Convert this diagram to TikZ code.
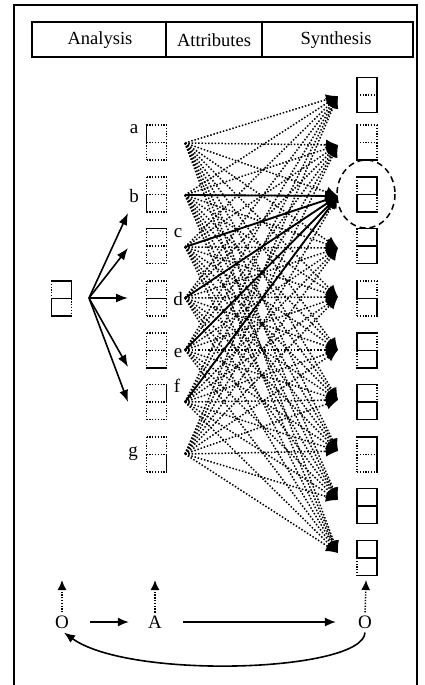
\documentclass[tikz,border=0pt]{standalone}
\usepackage{fontspec}
\setmainfont{Liberation Serif}
\usetikzlibrary{arrows.meta}

% two-cell box: centre, then edge styles TL BL T M B TR BR
\newcommand\twobox[8]{%
  \begin{scope}[shift={(#1)}]
  \draw[#2] (-10,-17.5) -- (-10,0);
  \draw[#3] (-10,0) -- (-10,17.5);
  \draw[#4] (-10,-17.5) -- (10,-17.5);
  \draw[#5] (-10,0) -- (10,0);
  \draw[#6] (-10,17.5) -- (10,17.5);
  \draw[#7] (10,-17.5) -- (10,0);
  \draw[#8] (10,0) -- (10,17.5);
  \end{scope}}

\begin{document}
\begin{tikzpicture}[x=1pt,y=-1pt,
  ls/.style={line width=1.8pt,line cap=rect},
  ld/.style={line width=1.2pt,line cap=butt,dash pattern=on 1.2pt off 1.6pt},
  link/.style={line width=1.5pt,dash pattern=on 1.5pt off 1.8pt,-{Latex[length=12pt,width=11pt]}},
  strong/.style={line width=1.8pt,-{Latex[length=13pt,width=11pt]}},
  branch/.style={line width=1.6pt,-{Latex[length=12pt,width=9pt]}},
  flow/.style={line width=1.6pt,-{Latex[length=11pt,width=9pt]}},
  rise/.style={line width=1.5pt,dash pattern=on 1.3pt off 1.5pt,-{Latex[length=10pt,width=9pt]}},
  letter/.style={inner sep=0pt,font=\fontsize{19}{20}\selectfont},
  head/.style={inner sep=0pt,font=\fontsize{18.5}{20}\selectfont}]
\useasboundingbox (0,0) rectangle (424,685);
\draw[line width=2.5pt] (14,5) rectangle (417,700);

% header
\draw[line width=1.4pt] (32,22) rectangle (413,57);
\draw[line width=1.4pt] (166,22) -- (166,57);
\draw[line width=1.4pt] (262,22) -- (262,57);
\node[head] (analysis) at (100,40) {Analysis};
\node[head] (attributes) at (214,40) {Attributes};
\node[head] (synthesis) at (336,40) {Synthesis};

% object and its attributes
\twobox{61.5,298.5}{ld}{ls}{ls}{ls}{ls}{ls}{ld}
\twobox{156.5,142.5}{ls}{ld}{ld}{ld}{ld}{ld}{ld}
\twobox{156.5,194.5}{ld}{ls}{ld}{ld}{ld}{ld}{ld}
\twobox{156.5,246}{ld}{ld}{ls}{ld}{ld}{ld}{ld}
\twobox{156.5,298.5}{ld}{ld}{ld}{ls}{ld}{ld}{ld}
\twobox{156.5,350.5}{ld}{ld}{ld}{ld}{ls}{ld}{ld}
\twobox{156.5,402}{ld}{ld}{ld}{ld}{ld}{ls}{ld}
\twobox{156.5,454.5}{ld}{ld}{ld}{ld}{ld}{ld}{ls}

\node[letter,anchor=base] (la) at (134,133) {a};
\node[letter,anchor=base] (lb) at (134,202) {b};
\node[letter,anchor=base] (lc) at (178,237) {c};
\node[letter,anchor=base] (ld) at (178,305) {d};
\node[letter,anchor=base] (le) at (178,357) {e};
\node[letter,anchor=base] (lf) at (177,392) {f};
\node[letter,anchor=base] (lg) at (133,456) {g};

% analysis arrows
\coordinate (split) at (89,298);
\coordinate (ab) at (128,213);
\coordinate (ac) at (128,248);
\coordinate (ad) at (128,298);
\coordinate (ae) at (128,367);
\coordinate (af) at (128,402);
\foreach \t in {ab,ac,ad,ae,af}
  \draw[branch] (split) -- (\t);

% synthesis boxes
\twobox{367,95}{ls}{ls}{ls}{ld}{ls}{ls}{ls}
\twobox{367,142.5}{ls}{ls}{ld}{ld}{ls}{ld}{ld}
\twobox{367,194.5}{ld}{ls}{ls}{ls}{ls}{ls}{ld}
\twobox{367,246}{ld}{ld}{ls}{ls}{ls}{ls}{ls}
\twobox{367,298.5}{ls}{ld}{ld}{ls}{ld}{ld}{ls}
\twobox{367,350.5}{ls}{ld}{ls}{ls}{ls}{ld}{ls}
\twobox{367,402}{ls}{ls}{ls}{ls}{ls}{ld}{ls}
\twobox{367,454.5}{ld}{ld}{ls}{ld}{ld}{ls}{ls}
\twobox{367,506}{ls}{ls}{ls}{ls}{ls}{ls}{ls}
\twobox{367,558}{ls}{ld}{ls}{ls}{ls}{ls}{ls}
\draw[line width=1.5pt,dash pattern=on 6pt off 4pt] (366,194) ellipse (29 and 34);

% links from every attribute to every synthesis
\foreach \n/\y in {a/143,b/195,c/247,d/298,e/350,f/402,g/454}
  \coordinate (s\n) at (185,\y);
\foreach \k/\y in {1/96,2/145,3/196,4/248,5/297,6/350,7/400,8/451,9/500,10/553}
  \coordinate (t\k) at (338,\y);
\foreach \n in {a,b,c,d,e,f,g}
  \foreach \k in {1,...,10}
    \draw[link] (s\n) -- (t\k);
\foreach \n in {b,c,d,e,f}
  \draw[strong] (s\n) -- (t3);

% O -> A -> O cycle
\node[letter] (o1) at (62,622) {O};
\node[letter] (a1) at (155,622) {A};
\node[letter] (o2) at (365,622) {O};
\draw[flow,shorten <=21pt,shorten >=19pt] (o1) -- (a1);
\draw[flow,shorten <=21pt,shorten >=22pt] (a1) -- (o2);
\coordinate (u1) at (62,580);
\coordinate (u2) at (155,580);
\coordinate (u3) at (366,580);
\draw[rise,shorten <=3pt] (o1.north) -- (u1);
\draw[rise,shorten <=3pt] (a1.north) -- (u2);
\draw[rise,shorten <=3pt] (o2.north) -- (u3);
\draw[flow] ([yshift=-4pt]o2.south) .. controls (363,672) and (130,680) .. ([xshift=2pt,yshift=-4pt]o1.south);
\end{tikzpicture}
\end{document}
